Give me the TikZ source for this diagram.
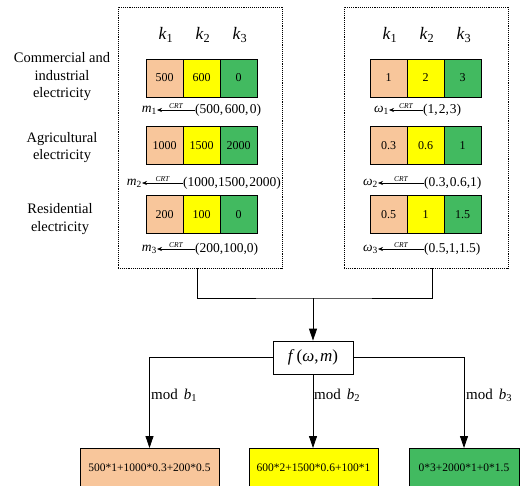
\documentclass[tikz,border=0pt]{standalone}
\usepackage{fontspec}
\setmainfont{Liberation Serif}
\usetikzlibrary{arrows.meta}
\definecolor{cpeach}{RGB}{248,198,155}
\definecolor{cyel}{RGB}{255,255,0}
\definecolor{cgreen}{RGB}{66,186,96}
\begin{document}
\begin{tikzpicture}[x=1pt,y=-1pt,
  cell/.style={draw, line width=0.8pt, minimum width=37pt, minimum height=38pt, inner sep=0pt, font=\fontsize{12}{14}\selectfont},
  klab/.style={font=\fontsize{17.5}{20}\selectfont},
  tup/.style={anchor=west, inner sep=0pt, font=\fontsize{13.5}{16}\selectfont},
  var/.style={anchor=east, inner sep=0pt, font=\fontsize{13.5}{16}\selectfont},
  crt/.style={-{Stealth[length=5pt,width=4pt]}, line width=0.6pt},
  crtlab/.style={above, inner sep=1pt, font=\fontsize{7.5}{8}\selectfont\itshape},
  grp/.style={draw, densely dotted, line width=0.9pt, inner sep=0pt},
  side/.style={align=center, font=\fontsize{14.5}{17.5}\selectfont},
  conn/.style={line width=0.8pt},
  arr/.style={line width=0.8pt, -{Triangle[length=12pt,width=8pt]}},
  res/.style={draw, line width=0.8pt, minimum height=38pt, inner sep=0pt, font=\fontsize{11.5}{14}\selectfont, anchor=north},
  modl/.style={anchor=west, inner sep=0pt, font=\fontsize{15}{17}\selectfont}
]
\useasboundingbox (0,0) rectangle (524,485);

% group boxes
\node[grp, minimum width=164pt, minimum height=261pt] (lbox) at (200,137.5) {};
\node[grp, minimum width=164pt, minimum height=261pt] (rbox) at (426,137.5) {};

% k labels
\node[klab] (lk1) at (166,35) {\textit{k}\textsubscript{1}};
\node[klab] (lk2) at (203,35) {\textit{k}\textsubscript{2}};
\node[klab] (lk3) at (240,35) {\textit{k}\textsubscript{3}};
\node[klab] (rk1) at (390,35) {\textit{k}\textsubscript{1}};
\node[klab] (rk2) at (427,35) {\textit{k}\textsubscript{2}};
\node[klab] (rk3) at (464,35) {\textit{k}\textsubscript{3}};

% side labels
\node[side] (s1) at (62,77) {Commercial and\\industrial\\electricity};
\node[side] (s2) at (62,147.5) {Agricultural\\electricity};
\node[side] (s3) at (60,219) {Residential\\electricity};

% left cells
\node[cell, fill=cpeach] (a11) at (164.5,78) {500};
\node[cell, fill=cyel]   (a12) at (201.5,78) {600};
\node[cell, fill=cgreen] (a13) at (238.5,78) {0};
\node[cell, fill=cpeach] (a21) at (164.5,145.5) {1000};
\node[cell, fill=cyel]   (a22) at (201.5,145.5) {1500};
\node[cell, fill=cgreen] (a23) at (238.5,145.5) {2000};
\node[cell, fill=cpeach] (a31) at (164.5,214.5) {200};
\node[cell, fill=cyel]   (a32) at (201.5,214.5) {100};
\node[cell, fill=cgreen] (a33) at (238.5,214.5) {0};

% right cells
\node[cell, fill=cpeach] (b11) at (388.5,78) {1};
\node[cell, fill=cyel]   (b12) at (425.5,78) {2};
\node[cell, fill=cgreen] (b13) at (462.5,78) {3};
\node[cell, fill=cpeach] (b21) at (388.5,145.5) {0.3};
\node[cell, fill=cyel]   (b22) at (425.5,145.5) {0.6};
\node[cell, fill=cgreen] (b23) at (462.5,145.5) {1};
\node[cell, fill=cpeach] (b31) at (388.5,214.5) {0.5};
\node[cell, fill=cyel]   (b32) at (425.5,214.5) {1};
\node[cell, fill=cgreen] (b33) at (462.5,214.5) {1.5};

% CRT rows left
\node[var] (m1) at (157,110) {\textit{m}\textsubscript{1}};
\node[tup] (t1) at (195,110) {(500,\kern1.5pt600,\kern1.5pt0)};
\draw[crt] (t1.west) -- node[crtlab]{CRT} (m1.east);
\node[var] (m2) at (142,183) {\textit{m}\textsubscript{2}};
\node[tup] (t2) at (183,183) {(1000,1500,\kern1pt2000)};
\draw[crt] (t2.west) -- node[crtlab]{CRT} (m2.east);
\node[var] (m3) at (157,249) {\textit{m}\textsubscript{3}};
\node[tup] (t3) at (195,249) {(200,100,0)};
\draw[crt] (t3.west) -- node[crtlab]{CRT} (m3.east);

% CRT rows right
\node[var] (w1) at (389,110) {\textit{ω}\textsubscript{1}};
\node[tup] (u1) at (423,110) {(1,\kern1pt2,\kern1pt3)};
\draw[crt] (u1.west) -- node[crtlab]{CRT} (w1.east);
\node[var] (w2) at (378,183) {\textit{ω}\textsubscript{2}};
\node[tup] (u2) at (424,183) {(0.3,\kern1pt0.6,1)};
\draw[crt] (u2.west) -- node[crtlab]{CRT} (w2.east);
\node[var] (w3) at (378,249) {\textit{ω}\textsubscript{3}};
\node[tup] (u3) at (424,249) {(0.5,1,1.5)};
\draw[crt] (u3.west) -- node[crtlab]{CRT} (w3.east);

% function box
\node[draw, line width=0.8pt, minimum width=80pt, minimum height=33pt, inner sep=0pt,
      font=\fontsize{17}{20}\selectfont] (f) at (313,357.5)
      {\textit{f}\kern2pt(\textit{ω},\kern1.5pt\textit{m})};

% junction
\coordinate (lj) at (197,268);
\coordinate (rj) at (432,268);
\coordinate (mj) at (313,298);
\draw[conn] (lj) |- (mj) -| (rj);
\draw[arr] (mj) -- (f.north);

% result boxes
\node[res, fill=cpeach, minimum width=139pt] (r1) at (149.5,448) {500*1+1000*0.3+200*0.5};
\node[res, fill=cyel,   minimum width=129pt] (r2) at (313.5,448) {600*2+1500*0.6+100*1};
\node[res, fill=cgreen, minimum width=110pt] (r3) at (464,448) {0*3+2000*1+0*1.5};

\draw[arr] (f.west) -| (r1.north);
\draw[arr] (f.south) -- (r2.north -| f.south);
\draw[arr] (f.east) -| (r3.north);

% mod labels
\node[modl] (mod1) at (151,395) {mod\kern6pt\textit{b}\textsubscript{1}};
\node[modl] (mod2) at (314,395) {mod\kern6pt\textit{b}\textsubscript{2}};
\node[modl] (mod3) at (466,395) {mod\kern6pt\textit{b}\textsubscript{3}};
\end{tikzpicture}
\end{document}
